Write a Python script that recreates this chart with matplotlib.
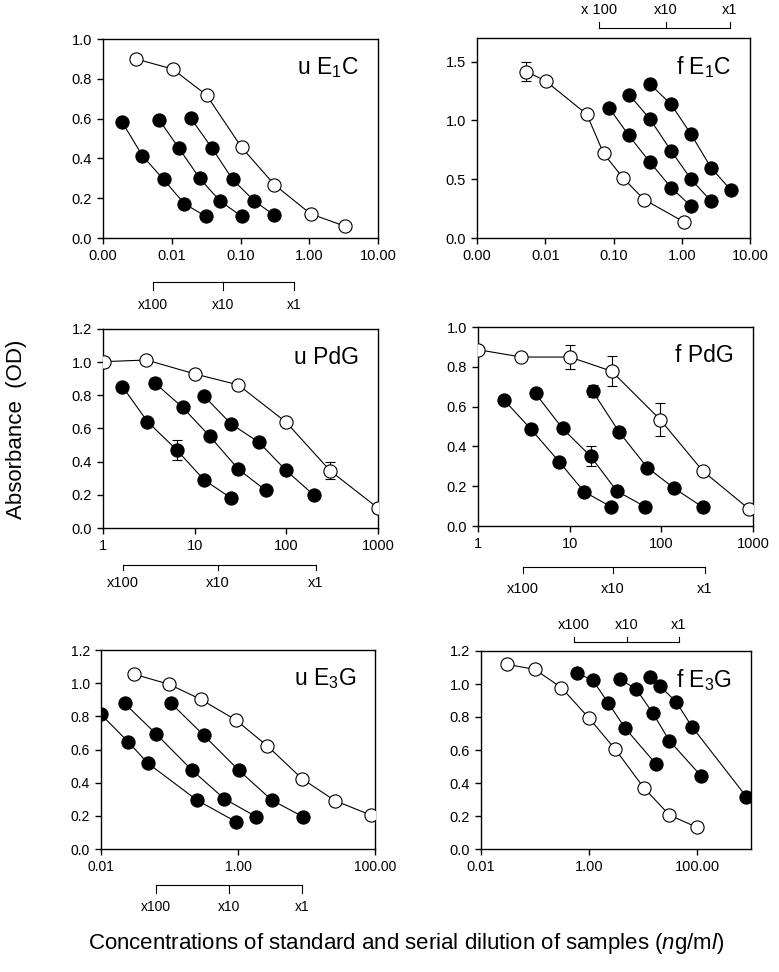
import numpy as np
import matplotlib
matplotlib.use("Agg")
import matplotlib.pyplot as plt
import matplotlib.transforms as mtransforms
from matplotlib.ticker import FixedLocator, FixedFormatter, NullLocator

plt.rcParams['font.family'] = ['Liberation Sans', 'DejaVu Sans']
plt.rcParams['mathtext.fontset'] = 'custom'
plt.rcParams['mathtext.rm'] = 'Liberation Sans'
plt.rcParams['mathtext.it'] = 'Liberation Sans:italic'

# ---- u E1C ----
ue1c_std_x = [0.00306, 0.0103, 0.0321, 0.104, 0.311, 1.05, 3.27]
ue1c_std_y = [0.899, 0.849, 0.718, 0.455, 0.268, 0.121, 0.060]
ue1c_s_x = [[0.00191, 0.00375, 0.0076, 0.0152, 0.031],
            [0.0066, 0.0128, 0.0256, 0.0502, 0.104],
            [0.019, 0.0388, 0.0769, 0.159, 0.311]]
ue1c_s_y = [[0.581, 0.413, 0.294, 0.173, 0.109],
            [0.592, 0.450, 0.299, 0.186, 0.109],
            [0.601, 0.450, 0.294, 0.186, 0.114]]

# ---- f E1C ----
fe1c_std_x = [0.00527, 0.0101, 0.0407, 0.0715, 0.14, 0.281, 1.08]
fe1c_std_y = [1.415, 1.335, 1.051, 0.719, 0.506, 0.327, 0.136]
fe1c_std_err = [0.084, 0, 0, 0, 0, 0, 0]
fe1c_s_x = [[0.0873, 0.166, 0.344, 0.698, 1.355],
            [0.171, 0.344, 0.698, 1.37, 2.69],
            [0.344, 0.698, 1.37, 2.69, 5.27]]
fe1c_s_y = [[1.102, 0.875, 0.642, 0.429, 0.273],
            [1.216, 1.009, 0.741, 0.500, 0.313],
            [1.307, 1.136, 0.881, 0.597, 0.406]]

# ---- u PdG ----
updg_std_x = [1.016, 2.98, 10.06, 29.9, 99.5, 301, 1000]
updg_std_y = [1.003, 1.013, 0.929, 0.863, 0.638, 0.345, 0.120]
updg_std_err = [0, 0, 0, 0, 0, 0.05, 0]
updg_s_x = [[1.63, 3.05, 6.34, 12.6, 24.9],
            [3.7, 7.37, 14.7, 29.9, 59.6],
            [12.6, 24.9, 50.4, 99.5, 198]]
updg_s_y = [[0.853, 0.642, 0.472, 0.291, 0.181],
            [0.873, 0.728, 0.552, 0.355, 0.227],
            [0.797, 0.628, 0.516, 0.347, 0.200]]
updg_s_err = [[0, 0, 0.06, 0, 0],
              [0.03, 0, 0, 0, 0],
              [0, 0, 0, 0, 0]]

# ---- f PdG ----
fpdg_std_x = [1.0, 2.98, 10.06, 28.7, 97, 284, 912]
fpdg_std_y = [0.886, 0.849, 0.849, 0.778, 0.535, 0.276, 0.084]
fpdg_std_err = [0, 0, 0.06, 0.074, 0.085, 0, 0]
fpdg_s_x = [[1.91, 3.77, 7.69, 14.4, 28.2],
            [4.24, 8.36, 16.9, 32.6, 66.5],
            [17.8, 34.9, 70.5, 139, 284]]
fpdg_s_y = [[0.635, 0.487, 0.323, 0.172, 0.097],
            [0.666, 0.490, 0.351, 0.176, 0.097],
            [0.677, 0.470, 0.293, 0.189, 0.094]]
fpdg_s_err = [[0, 0, 0, 0, 0],
              [0, 0, 0.05, 0, 0],
              [0.03, 0, 0, 0, 0]]

# ---- u E3G ----
ue3g_std_x = [0.0299, 0.099, 0.287, 0.929, 2.69, 8.71, 26.1, 86.5]
ue3g_std_y = [1.055, 0.993, 0.902, 0.778, 0.621, 0.422, 0.291, 0.205]
ue3g_s_x = [[0.01, 0.0248, 0.0484, 0.251, 0.929],
            [0.0221, 0.0641, 0.212, 0.635, 1.84],
            [0.106, 0.314, 1.02, 3.11, 8.82]]
ue3g_s_y = [[0.812, 0.647, 0.517, 0.295, 0.165],
            [0.878, 0.693, 0.476, 0.302, 0.195],
            [0.878, 0.687, 0.476, 0.295, 0.195]]

# ---- f E3G ----
fe3g_std_x = [0.0303, 0.0987, 0.308, 1.01, 3.07, 10.3, 30.7, 100]
fe3g_std_y = [1.119, 1.089, 0.978, 0.792, 0.604, 0.372, 0.206, 0.131]
fe3g_s_x = [[0.6, 1.17, 2.25, 4.71, 17.4],
            [3.8, 7.53, 15.3, 30.7, 118],
            [13.7, 20.4, 40.9, 80.7, 820]]
fe3g_s_y = [[1.065, 1.024, 0.887, 0.731, 0.515],
            [1.028, 0.968, 0.822, 0.657, 0.444],
            [1.040, 0.988, 0.893, 0.741, 0.317]]

dil_labels = ['x100', 'x10', 'x1']


def draw_panel(ax, std_x, std_y, s_x, s_y, std_err=None, s_err=None):
    ms = 9.5
    for i in range(len(s_x)):
        ax.plot(s_x[i], s_y[i], '-', color='black', lw=0.8, zorder=2)
        if s_err is not None and any(s_err[i]):
            ax.errorbar(s_x[i], s_y[i], yerr=s_err[i], fmt='none', ecolor='black',
                        elinewidth=0.8, capsize=3.5, capthick=0.8, zorder=2)
        ax.plot(s_x[i], s_y[i], 'o', ms=ms, mfc='black', mec='black', mew=0.8, zorder=3)
    ax.plot(std_x, std_y, '-', color='black', lw=0.8, zorder=2)
    if std_err is not None:
        ax.errorbar(std_x, std_y, yerr=std_err, fmt='none', ecolor='black',
                    elinewidth=0.8, capsize=3.5, capthick=0.8, zorder=2)
    ax.plot(std_x, std_y, 'o', ms=ms, mfc='white', mec='black', mew=0.8, zorder=3)
    ax.set_xscale('log')
    ax.xaxis.set_minor_locator(NullLocator())
    for sp in ax.spines.values():
        sp.set_linewidth(1.0)
    ax.tick_params(direction='out', length=4, width=1.0, labelsize=10.5, pad=4)


def set_xticks(ax, ticks, labels, lim):
    ax.set_xlim(*lim)
    ax.xaxis.set_major_locator(FixedLocator(ticks))
    ax.xaxis.set_major_formatter(FixedFormatter(labels))
    ax.xaxis.set_minor_locator(NullLocator())


def set_yticks(ax, top, step):
    ax.set_ylim(0, top)
    ticks = np.arange(0, top + 1e-9, step)
    ax.set_yticks(ticks)
    ax.set_yticklabels([f'{t:.1f}' for t in ticks])


def bracket(ax, xs, y_line, y_tick, y_text, fs, labels=dil_labels):
    tr = mtransforms.blended_transform_factory(ax.transData, ax.transAxes)
    ax.plot([xs[0], xs[-1]], [y_line, y_line], color='black', lw=0.8,
            transform=tr, clip_on=False)
    for x, lab in zip(xs, labels):
        ax.plot([x, x], [y_line, y_tick], color='black', lw=0.8,
                transform=tr, clip_on=False)
        ax.text(x, y_text, lab, transform=tr, ha='center', va='center', fontsize=fs)


fig = plt.figure(figsize=(7.79, 9.72), dpi=100)
W, H = 779.0, 972.0


def add_axes(l, r, t, b):
    return fig.add_axes([l / W, 1 - b / H, (r - l) / W, (b - t) / H])


ax1 = add_axes(103, 378, 39, 238)
ax2 = add_axes(477, 750, 38, 238)
ax3 = add_axes(103, 378, 329, 528)
ax4 = add_axes(478, 753, 327, 526)
ax5 = add_axes(101, 375, 650, 849)
ax6 = add_axes(481, 751, 651, 849)

draw_panel(ax1, ue1c_std_x, ue1c_std_y, ue1c_s_x, ue1c_s_y)
set_xticks(ax1, [0.001, 0.01, 0.1, 1, 10], ['0.00', '0.01', '0.10', '1.00', '10.00'], (0.001, 10))
set_yticks(ax1, 1.0, 0.2)
bracket(ax1, [0.0053, 0.056, 0.6], -0.221, -0.261, -0.337, 10)

draw_panel(ax2, fe1c_std_x, fe1c_std_y, fe1c_s_x, fe1c_s_y, std_err=fe1c_std_err)
set_xticks(ax2, [0.001, 0.01, 0.1, 1, 10], ['0.00', '0.01', '0.10', '1.00', '10.00'], (0.001, 10))
ax2.set_ylim(0, 1.7)
ax2.set_yticks([0, 0.5, 1.0, 1.5])
ax2.set_yticklabels(['0.0', '0.5', '1.0', '1.5'])
bracket(ax2, [0.062, 0.58, 5.1], 1.05, 1.08, 1.14, 10.5, labels=['x 100', 'x10', 'x1'])

draw_panel(ax3, updg_std_x, updg_std_y, updg_s_x, updg_s_y, std_err=updg_std_err, s_err=updg_s_err)
set_xticks(ax3, [1, 10, 100, 1000], ['1', '10', '100', '1000'], (1, 1000))
set_yticks(ax3, 1.2, 0.2)
bracket(ax3, [1.65, 18, 210], -0.186, -0.211, -0.276, 10.5)

draw_panel(ax4, fpdg_std_x, fpdg_std_y, fpdg_s_x, fpdg_s_y, std_err=fpdg_std_err, s_err=fpdg_s_err)
set_xticks(ax4, [1, 10, 100, 1000], ['1', '10', '100', '1000'], (1, 1000))
set_yticks(ax4, 1.0, 0.2)
bracket(ax4, [3.1, 29.7, 300], -0.206, -0.236, -0.317, 10.5)

draw_panel(ax5, ue3g_std_x, ue3g_std_y, ue3g_s_x, ue3g_s_y)
set_xticks(ax5, [0.01, 1, 100], ['0.01', '1.00', '100.00'], (0.01, 100))
set_yticks(ax5, 1.2, 0.2)
ax5.tick_params(labelsize=10)
bracket(ax5, [0.063, 0.74, 8.6], -0.181, -0.221, -0.291, 10)

draw_panel(ax6, fe3g_std_x, fe3g_std_y, fe3g_s_x, fe3g_s_y)
set_xticks(ax6, [0.01, 1, 100], ['0.01', '1.00', '100.00'], (0.01, 1000))
set_yticks(ax6, 1.2, 0.2)
bracket(ax6, [0.52, 5.0, 46], 1.045, 1.07, 1.13, 10.5)

titles = ['u E$_1$C', 'f E$_1$C', 'u PdG', 'f PdG', 'u E$_3$G', 'f E$_3$G']
for ax, t in zip([ax1, ax2, ax3, ax4, ax5, ax6], titles):
    ax.text(0.93, 0.855, t, transform=ax.transAxes, ha='right', va='center', fontsize=16.5)

fig.text(17 / W, 1 - 429 / H, 'Absorbance  (OD)', rotation=90, ha='center', va='center', fontsize=16)
fig.text(406 / W, 1 - 943 / H,
         'Concentrations of standard and serial dilution of samples ($\\mathit{n}$g/m$\\mathit{l}$)',
         ha='center', va='center', fontsize=16)

fig.savefig('out.png', dpi=100)
